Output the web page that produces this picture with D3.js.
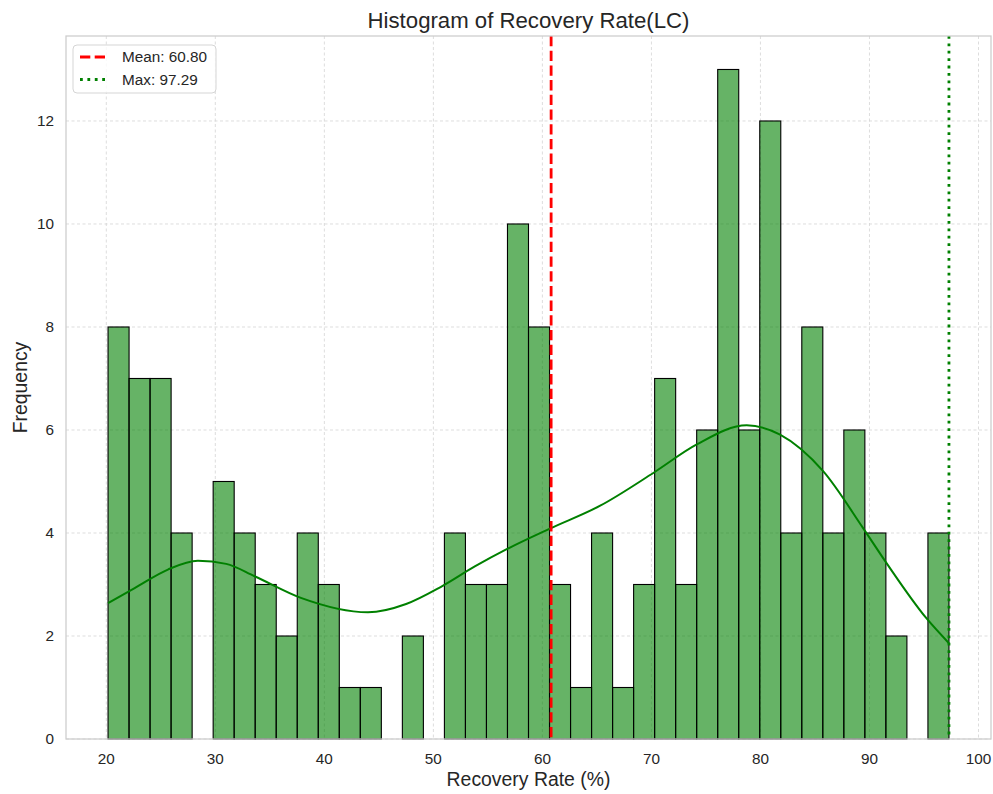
<!DOCTYPE html>
<html>
<head>
<meta charset="utf-8">
<script src="https://cdn.jsdelivr.net/npm/d3@7"></script>
<style>
  html, body { margin: 0; padding: 0; background: #ffffff; }
  svg { display: block; font-family: "Liberation Sans", Arial, sans-serif; }
</style>
</head>
<body>
<svg id="chart" width="993" height="794"></svg>
<script>
// Recovery rate histogram (40 equal-width bins between the min and max value)
const rateMin = 20.16;
const rateMax = 97.29;
const binCounts = [8, 7, 7, 4, 0, 5, 4, 3, 2, 4, 3, 1, 1, 0, 2, 0, 4, 3, 3, 10,
                   8, 3, 1, 4, 1, 3, 7, 3, 6, 13, 6, 12, 4, 8, 4, 6, 4, 2, 0, 4];
const meanRate = 60.80;
const maxRate = 97.29;

// Kernel density estimate, scaled to counts
const kdeX = [20.16, 22.6, 25.65, 28.4, 31.0, 33.6, 37.85, 44.0, 47.5, 50.66, 53.8, 56.77,
              60.73, 65.3, 70.2, 74.16, 78.74, 81.8, 85.75, 89.4, 91.55, 95.2, 97.29];
const kdeY = [2.64, 2.93, 3.29, 3.46, 3.40, 3.16, 2.74, 2.46, 2.62, 2.95, 3.35, 3.69,
              4.09, 4.53, 5.17, 5.72, 6.09, 5.91, 5.2, 4.1, 3.42, 2.35, 1.86];

const xTicks = [20, 30, 40, 50, 60, 70, 80, 90, 100];
const yTicks = [0, 2, 4, 6, 8, 10, 12];

const svg = d3.select("#chart");
const plot = { left: 66, right: 991, top: 36, bottom: 739 };
const textColor = "#262626";

const span = rateMax - rateMin;
const x = d3.scaleLinear()
  .domain([rateMin - 0.05 * span, rateMax + 0.05 * span])
  .range([plot.left, plot.right]);
const y = d3.scaleLinear()
  .domain([0, d3.max(binCounts) * 1.05])
  .range([plot.bottom, plot.top]);

// Grid
const grid = svg.append("g").attr("stroke", "#d4d4d4").attr("stroke-width", 0.8)
  .attr("stroke-dasharray", "3,2.5");
grid.selectAll(".gx").data(xTicks).join("line")
  .attr("x1", d => x(d)).attr("x2", d => x(d))
  .attr("y1", plot.top).attr("y2", plot.bottom);
grid.selectAll(".gy").data(yTicks).join("line")
  .attr("x1", plot.left).attr("x2", plot.right)
  .attr("y1", d => y(d)).attr("y2", d => y(d));

// Bars
const binW = span / binCounts.length;
const bins = binCounts.map((c, i) => ({ x0: rateMin + i * binW, x1: rateMin + (i + 1) * binW, count: c }));
svg.append("g").selectAll("rect").data(bins.filter(b => b.count > 0)).join("rect")
  .attr("x", d => x(d.x0))
  .attr("width", d => x(d.x1) - x(d.x0))
  .attr("y", d => y(d.count))
  .attr("height", d => y(0) - y(d.count))
  .attr("fill", "#008000").attr("fill-opacity", 0.6)
  .attr("stroke", "#000").attr("stroke-width", 1.1);

// KDE curve
const line = d3.line()
  .x(d => x(d[0])).y(d => y(d[1]))
  .curve(d3.curveMonotoneX);
svg.append("path")
  .datum(kdeX.map((v, i) => [v, kdeY[i]]))
  .attr("d", line)
  .attr("fill", "none").attr("stroke", "#008000").attr("stroke-width", 2);

// Mean and max reference lines
svg.append("line")
  .attr("x1", x(meanRate)).attr("x2", x(meanRate))
  .attr("y1", plot.top).attr("y2", plot.bottom)
  .attr("stroke", "#ff0000").attr("stroke-width", 2.8)
  .attr("stroke-dasharray", "10.3,4.4");
svg.append("line")
  .attr("x1", x(maxRate)).attr("x2", x(maxRate))
  .attr("y1", plot.top).attr("y2", plot.bottom)
  .attr("stroke", "#008000").attr("stroke-width", 2.8)
  .attr("stroke-dasharray", "2.8,4.6");

// Spines
svg.append("rect")
  .attr("x", plot.left).attr("y", plot.top)
  .attr("width", plot.right - plot.left).attr("height", plot.bottom - plot.top)
  .attr("fill", "none").attr("stroke", "#cccccc").attr("stroke-width", 1.25);

// Tick labels
svg.append("g").selectAll("text").data(xTicks).join("text")
  .attr("x", d => x(d)).attr("y", plot.bottom + 25)
  .attr("text-anchor", "middle").attr("font-size", 15.3).attr("fill", textColor)
  .text(d => d);
svg.append("g").selectAll("text").data(yTicks).join("text")
  .attr("x", plot.left - 12).attr("y", d => y(d) + 5.3)
  .attr("text-anchor", "end").attr("font-size", 15.3).attr("fill", textColor)
  .text(d => d);

// Titles
svg.append("text")
  .attr("x", (plot.left + plot.right) / 2).attr("y", 28)
  .attr("text-anchor", "middle").attr("font-size", 22.2).attr("fill", textColor)
  .text("Histogram of Recovery Rate(LC)");
svg.append("text")
  .attr("x", (plot.left + plot.right) / 2).attr("y", 786)
  .attr("text-anchor", "middle").attr("font-size", 19.4).attr("fill", textColor)
  .text("Recovery Rate (%)");
svg.append("text")
  .attr("transform", `translate(27, ${(plot.top + plot.bottom) / 2}) rotate(-90)`)
  .attr("text-anchor", "middle").attr("font-size", 19.4).attr("fill", textColor)
  .text("Frequency");

// Legend
const legend = svg.append("g").attr("transform", "translate(73, 45)");
legend.append("rect")
  .attr("width", 143).attr("height", 48).attr("rx", 4)
  .attr("fill", "#ffffff").attr("fill-opacity", 0.8)
  .attr("stroke", "#d5d5d5").attr("stroke-width", 1);
const legendItems = [
  { label: `Mean: ${meanRate.toFixed(2)}`, color: "#ff0000", dash: "10.3,4.4" },
  { label: `Max: ${maxRate.toFixed(2)}`, color: "#008000", dash: "2.8,4.6" }
];
legendItems.forEach((it, i) => {
  const cy = 12 + i * 22.5;
  legend.append("line")
    .attr("x1", 7).attr("x2", 35).attr("y1", cy).attr("y2", cy)
    .attr("stroke", it.color).attr("stroke-width", 2.8)
    .attr("stroke-dasharray", it.dash);
  legend.append("text")
    .attr("x", 49).attr("y", cy + 5.3)
    .attr("font-size", 15.3).attr("fill", textColor)
    .text(it.label);
});
</script>
</body>
</html>
